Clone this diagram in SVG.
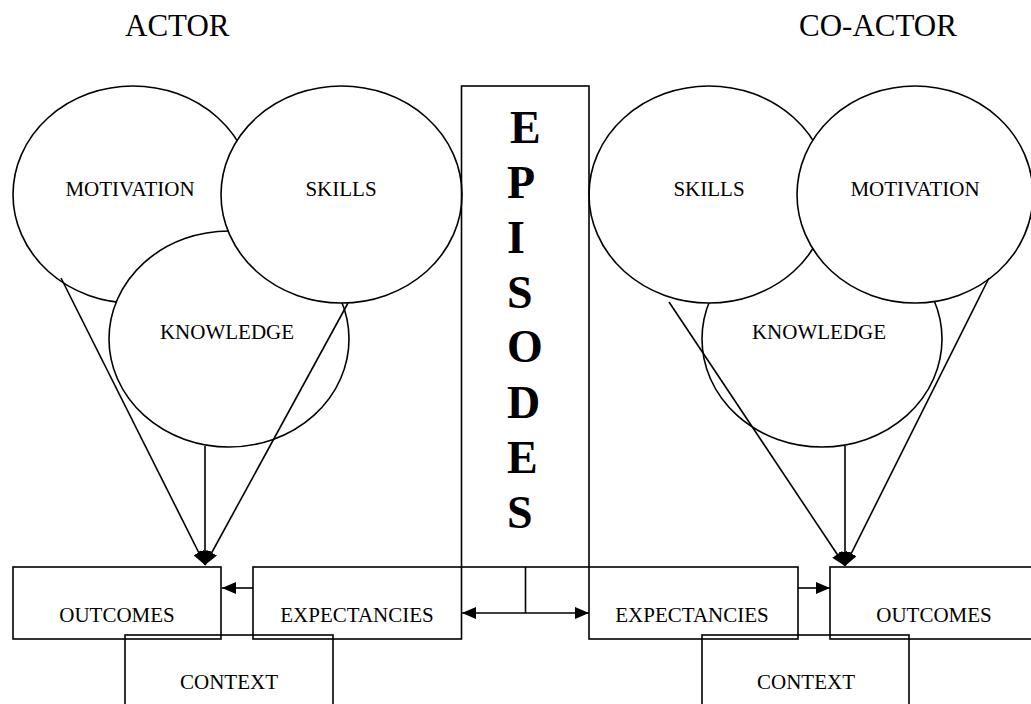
<svg xmlns="http://www.w3.org/2000/svg" width="1031" height="704" viewBox="0 0 1031 704">
<style>
.shape{fill:#fff;stroke:#000;stroke-width:1.6}
.box{fill:none;stroke:#000;stroke-width:1.6}
.lbl{font-family:"Liberation Serif","Times New Roman",serif;font-size:21px;fill:#000;text-anchor:middle}
.head{font-family:"Liberation Serif","Times New Roman",serif;font-size:31px;fill:#000}
.ep{font-family:"Liberation Serif","Times New Roman",serif;font-size:46px;font-weight:bold;fill:#000}
.ln{fill:none;stroke:#000;stroke-width:1.6}
</style>
<defs>
<marker id="ah" viewBox="0 0 14 12" refX="14" refY="6" markerWidth="14" markerHeight="12" markerUnits="userSpaceOnUse" orient="auto">
<path d="M0,0 L14,6 L0,12 Z" fill="#000"/>
</marker>
<marker id="ahs" viewBox="0 0 14 12" refX="0" refY="6" markerWidth="14" markerHeight="12" markerUnits="userSpaceOnUse" orient="auto">
<path d="M14,0 L0,6 L14,12 Z" fill="#000"/>
</marker>
</defs>
<rect width="1031" height="704" fill="#fff"/>
<text class="head" x="125" y="36">ACTOR</text>
<text class="head" x="799" y="36">CO-ACTOR</text>

<g id="actor-motivation"><ellipse class="shape" cx="133" cy="194.5" rx="120" ry="108.5"/><text class="lbl" x="130" y="196">MOTIVATION</text></g>
<g id="actor-knowledge"><ellipse class="shape" cx="229" cy="339" rx="120" ry="108"/><text class="lbl" x="227" y="339">KNOWLEDGE</text></g>
<g id="actor-skills"><ellipse class="shape" cx="341.5" cy="194.5" rx="120.5" ry="108.5"/><text class="lbl" x="341" y="196">SKILLS</text></g>

<g id="coactor-knowledge"><ellipse class="shape" cx="822" cy="339" rx="120" ry="108"/><text class="lbl" x="819" y="339">KNOWLEDGE</text></g>
<g id="coactor-skills"><ellipse class="shape" cx="709" cy="194.5" rx="120" ry="108.5"/><text class="lbl" x="709" y="196">SKILLS</text></g>
<g id="coactor-motivation"><ellipse class="shape" cx="915" cy="194.5" rx="118" ry="108.5"/><text class="lbl" x="915" y="196">MOTIVATION</text></g>

<g id="episodes"><rect class="box" x="461.5" y="86" width="127.5" height="481"/>
<text class="ep" x="510" y="143">E</text>
<text class="ep" x="507" y="198">P</text>
<text class="ep" x="507" y="253">I</text>
<text class="ep" x="507" y="308">S</text>
<text class="ep" x="507" y="362">O</text>
<text class="ep" x="507" y="418">D</text>
<text class="ep" x="507" y="473">E</text>
<text class="ep" x="507" y="528">S</text>
</g>

<g id="actor-outcomes"><rect class="box" x="13" y="567" width="208" height="72"/><text class="lbl" x="117" y="622">OUTCOMES</text></g>
<g id="actor-expectancies"><rect class="box" x="253" y="567" width="208.5" height="72"/><text class="lbl" x="357" y="622">EXPECTANCIES</text></g>
<g id="actor-context"><rect class="box" x="125" y="635" width="208" height="80"/><text class="lbl" x="229" y="689">CONTEXT</text></g>

<g id="coactor-expectancies"><rect class="box" x="589" y="567" width="209" height="72"/><text class="lbl" x="692" y="622">EXPECTANCIES</text></g>
<g id="coactor-outcomes"><rect class="box" x="830" y="567" width="215" height="72"/><text class="lbl" x="934" y="622">OUTCOMES</text></g>
<g id="coactor-context"><rect class="box" x="702" y="635" width="207" height="80"/><text class="lbl" x="806" y="689">CONTEXT</text></g>

<g id="connectors">
<line class="ln" x1="61" y1="278" x2="205" y2="565" marker-end="url(#ah)"/>
<line class="ln" x1="348" y1="303" x2="205" y2="565" marker-end="url(#ah)"/>
<line class="ln" x1="205" y1="446" x2="205" y2="565" marker-end="url(#ah)"/>
<line class="ln" x1="669" y1="302" x2="845" y2="566" marker-end="url(#ah)"/>
<line class="ln" x1="989" y1="278" x2="845" y2="566" marker-end="url(#ah)"/>
<line class="ln" x1="845" y1="446" x2="845" y2="566" marker-end="url(#ah)"/>
<line class="ln" x1="253" y1="588" x2="222" y2="588" marker-end="url(#ah)"/>
<line class="ln" x1="798" y1="588" x2="830" y2="588" marker-end="url(#ah)"/>
<line class="ln" x1="462" y1="613" x2="589" y2="613" marker-start="url(#ahs)" marker-end="url(#ah)"/>
<line class="ln" x1="525.5" y1="567" x2="525.5" y2="613"/>
</g>
</svg>
